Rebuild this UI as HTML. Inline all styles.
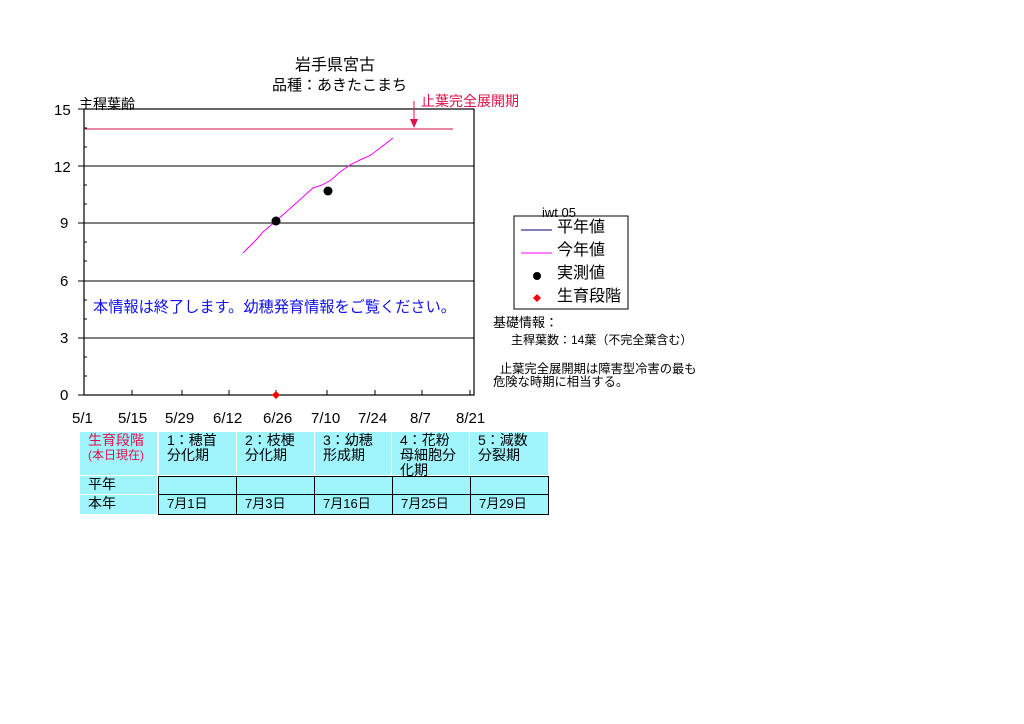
<!DOCTYPE html>
<html><head><meta charset="utf-8"><style>
body{margin:0;width:1024px;height:724px;background:#fff;position:relative;overflow:hidden;font-family:"Liberation Sans","Noto Sans CJK JP",sans-serif;}
.t{position:absolute;white-space:nowrap;font-size:14px;line-height:16px;color:#000}
.c{position:absolute;background:#a0f4fc;box-sizing:border-box;font-size:14px;line-height:15px;padding:1px 0 0 8px}
.b{border:1px solid #000}
</style></head><body>
<svg width="1024" height="724" style="position:absolute;left:0;top:0">
<rect x="84" y="109" width="390" height="286" fill="none" stroke="#000" stroke-width="1.2"/>
<g stroke="#000" stroke-width="1">
<line x1="84" y1="166" x2="474" y2="166"/><line x1="84" y1="223" x2="474" y2="223"/>
<line x1="84" y1="281" x2="474" y2="281"/><line x1="84" y1="338" x2="474" y2="338"/>
<line x1="78" y1="109" x2="84" y2="109"/><line x1="78" y1="166" x2="84" y2="166"/><line x1="78" y1="223" x2="84" y2="223"/><line x1="78" y1="281" x2="84" y2="281"/><line x1="78" y1="338" x2="84" y2="338"/><line x1="78" y1="395" x2="84" y2="395"/>
<line x1="84" y1="128" x2="87" y2="128"/><line x1="84" y1="147" x2="87" y2="147"/><line x1="84" y1="185" x2="87" y2="185"/><line x1="84" y1="204" x2="87" y2="204"/><line x1="84" y1="242" x2="87" y2="242"/><line x1="84" y1="261" x2="87" y2="261"/><line x1="84" y1="300" x2="87" y2="300"/><line x1="84" y1="319" x2="87" y2="319"/><line x1="84" y1="357" x2="87" y2="357"/><line x1="84" y1="376" x2="87" y2="376"/>
<line x1="132" y1="390" x2="132" y2="395"/><line x1="182" y1="390" x2="182" y2="395"/><line x1="229" y1="390" x2="229" y2="395"/><line x1="276" y1="390" x2="276" y2="395"/><line x1="327" y1="390" x2="327" y2="395"/><line x1="375" y1="390" x2="375" y2="395"/><line x1="422" y1="390" x2="422" y2="395"/><line x1="470" y1="390" x2="470" y2="395"/>
</g>
<line x1="85" y1="129" x2="453" y2="129" stroke="#c8104a" stroke-width="1"/>
<polyline points="243,253 250,246 256,240 263,232 270,226 276,221 285,213 294,205 304,196 313,188 322,185 331,180 340,172 350,165 360,160 371,155 380,148 393,138" fill="none" stroke="#f0f" stroke-width="1"/>
<circle cx="276" cy="221" r="4.5" fill="#000"/><circle cx="328" cy="191" r="4.5" fill="#000"/>
<polygon points="276,391 280,395 276,399 272,395" fill="#f00"/>
<line x1="414" y1="101" x2="414" y2="122" stroke="#e0104a"/>
<polygon points="410,119 418,119 414,128" fill="#e0104a"/>
<rect x="514" y="216" width="114" height="93" fill="#fff" stroke="#000"/>
<line x1="521" y1="230" x2="552" y2="230" stroke="#000080"/>
<line x1="521" y1="253" x2="552" y2="253" stroke="#f0f"/>
<circle cx="537" cy="276" r="4" fill="#000"/>
<polygon points="537,294 541,298 537,302 533,298" fill="#f00"/>
</svg>
<div class="t" style="left:295px;top:57px;font-size:16px;line-height:18px">岩手県宮古</div>
<div class="t" style="left:272px;top:77px;font-size:15px;line-height:18px">品種：あきたこまち</div>
<div class="t" style="left:79px;top:96px">主稈葉齢</div>
<div class="t" style="left:421px;top:93px;color:#e0104a">止葉完全展開期</div>
<div class="t" style="left:54px;top:103px;font-size:15px">15</div>
<div class="t" style="left:54px;top:160px;font-size:15px">12</div>
<div class="t" style="left:60px;top:216px;font-size:15px">9</div>
<div class="t" style="left:60px;top:274px;font-size:15px">6</div>
<div class="t" style="left:60px;top:331px;font-size:15px">3</div>
<div class="t" style="left:60px;top:388px;font-size:15px">0</div>
<div class="t" style="left:72px;top:411px;font-size:15px">5/1</div>
<div class="t" style="left:118px;top:411px;font-size:15px">5/15</div>
<div class="t" style="left:165px;top:411px;font-size:15px">5/29</div>
<div class="t" style="left:213px;top:411px;font-size:15px">6/12</div>
<div class="t" style="left:263px;top:411px;font-size:15px">6/26</div>
<div class="t" style="left:311px;top:411px;font-size:15px">7/10</div>
<div class="t" style="left:358px;top:411px;font-size:15px">7/24</div>
<div class="t" style="left:410px;top:411px;font-size:15px">8/7</div>
<div class="t" style="left:456px;top:411px;font-size:15px">8/21</div>
<div class="t" style="left:93px;top:300px;color:#1010f0;font-size:15.2px">本情報は終了します。幼穂発育情報をご覧ください。</div>
<div class="t" style="left:542px;top:205px;font-size:13px">iwt 05</div>
<div class="t" style="left:557px;top:220px;font-size:16px">平年値</div>
<div class="t" style="left:557px;top:243px;font-size:16px">今年値</div>
<div class="t" style="left:557px;top:266px;font-size:16px">実測値</div>
<div class="t" style="left:557px;top:289px;font-size:16px">生育段階</div>
<div class="t" style="left:493px;top:315px;font-size:13px">基礎情報：</div>
<div class="t" style="left:511px;top:332px;font-size:12px">主稈葉数：14葉（不完全葉含む）</div>
<div class="t" style="left:493px;top:363px;font-size:12.3px;line-height:13px">&nbsp;&nbsp;止葉完全展開期は障害型冷害の最も<br>危険な時期に相当する。</div>
<div class="c" style="left:80px;top:432px;width:77px;height:43px;padding-left:8px;color:#e0104a;line-height:14px">生育段階<br><span style="font-size:12px">(本日現在)</span></div>
<div class="c" style="left:159px;top:432px;width:77px;height:43px">1：穂首<br>分化期</div>
<div class="c" style="left:237px;top:432px;width:77px;height:43px">2：枝梗<br>分化期</div>
<div class="c" style="left:315px;top:432px;width:76px;height:43px">3：幼穂<br>形成期</div>
<div class="c" style="left:392px;top:432px;width:77px;height:43px">4：花粉<br>母細胞分<br>化期</div>
<div class="c" style="left:470px;top:432px;width:78px;height:43px">5：減数<br>分裂期</div>
<div class="c" style="left:80px;top:476px;width:77px;height:18px">平年</div>
<div class="c" style="left:80px;top:495px;width:77px;height:19px">本年</div>
<div class="c b" style="left:158px;top:476px;width:79px;height:19px"></div>
<div class="c b" style="left:236px;top:476px;width:79px;height:19px"></div>
<div class="c b" style="left:314px;top:476px;width:79px;height:19px"></div>
<div class="c b" style="left:392px;top:476px;width:79px;height:19px"></div>
<div class="c b" style="left:470px;top:476px;width:79px;height:19px"></div>
<div class="c b" style="left:158px;top:494px;width:79px;height:21px;font-size:13px">7月1日</div>
<div class="c b" style="left:236px;top:494px;width:79px;height:21px;font-size:13px">7月3日</div>
<div class="c b" style="left:314px;top:494px;width:79px;height:21px;font-size:13px">7月16日</div>
<div class="c b" style="left:392px;top:494px;width:79px;height:21px;font-size:13px">7月25日</div>
<div class="c b" style="left:470px;top:494px;width:79px;height:21px;font-size:13px">7月29日</div>
</body></html>
